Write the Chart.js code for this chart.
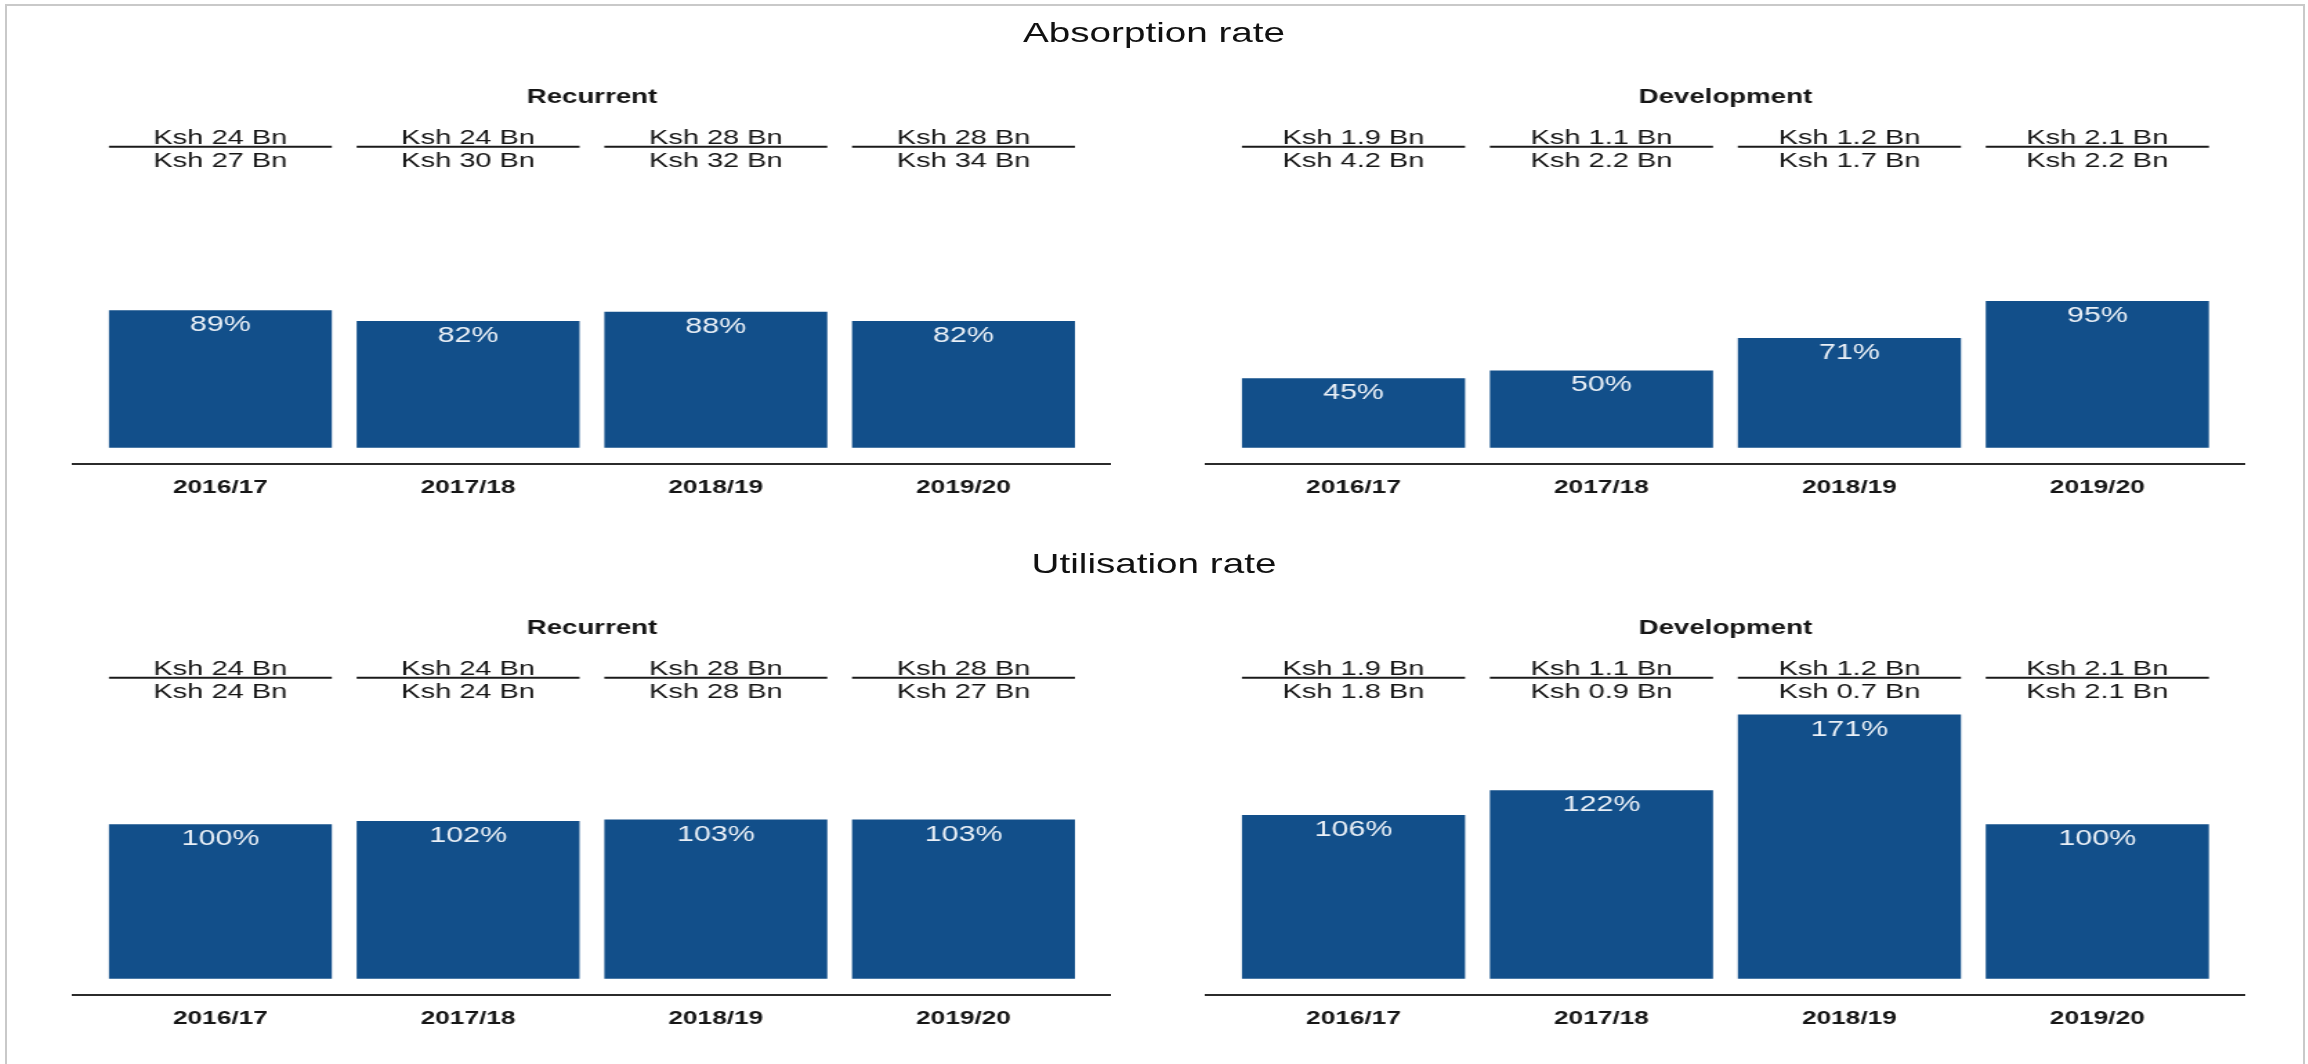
<!doctype html>
<html lang="en"><head>
<meta charset="utf-8"/>
<title>Absorption and utilisation rate</title>
<script src="https://cdn.jsdelivr.net/npm/chart.js@4.4.6/dist/chart.umd.min.js"></script>
<style>
  *{box-sizing:border-box}
  html,body{margin:0;padding:0;background:#fff;width:2308px;height:1064px;overflow:hidden}
  body{font-family:"Liberation Sans",Arial,sans-serif;color:#111}
  .frame{position:absolute;left:5px;top:4px;width:2300px;height:1100px;border:2px solid #c9c9c9}
  /* the source picture is stretched sideways, so the whole drawing is too */
  #stage{position:absolute;left:0;top:0;height:1064px;transform-origin:0 0}
  .rowtitle{position:absolute;left:0;width:100%;text-align:center;font-size:28px;line-height:30px;color:#111}
  .panel{position:absolute}
</style></head>
<body>
<div class="frame"></div>
<div id="stage"></div>
<script>
// ---- data ----
const YEARS = ['2016/17', '2017/18', '2018/19', '2019/20'];

const ABS_REC = [89, 82, 88, 82];
const ABS_REC_NUM = ['Ksh 24 Bn', 'Ksh 24 Bn', 'Ksh 28 Bn', 'Ksh 28 Bn'];
const ABS_REC_DEN = ['Ksh 27 Bn', 'Ksh 30 Bn', 'Ksh 32 Bn', 'Ksh 34 Bn'];

const ABS_DEV = [45, 50, 71, 95];
const ABS_DEV_NUM = ['Ksh 1.9 Bn', 'Ksh 1.1 Bn', 'Ksh 1.2 Bn', 'Ksh 2.1 Bn'];
const ABS_DEV_DEN = ['Ksh 4.2 Bn', 'Ksh 2.2 Bn', 'Ksh 1.7 Bn', 'Ksh 2.2 Bn'];

const UTL_REC = [100, 102, 103, 103];
const UTL_REC_NUM = ['Ksh 24 Bn', 'Ksh 24 Bn', 'Ksh 28 Bn', 'Ksh 28 Bn'];
const UTL_REC_DEN = ['Ksh 24 Bn', 'Ksh 24 Bn', 'Ksh 28 Bn', 'Ksh 27 Bn'];

const UTL_DEV = [106, 122, 171, 100];
const UTL_DEV_NUM = ['Ksh 1.9 Bn', 'Ksh 1.1 Bn', 'Ksh 1.2 Bn', 'Ksh 2.1 Bn'];
const UTL_DEV_DEN = ['Ksh 1.8 Bn', 'Ksh 0.9 Bn', 'Ksh 0.7 Bn', 'Ksh 2.1 Bn'];

// ---- layout ----
const SX = 1.38;
const FONT = '"Liberation Sans", Arial, sans-serif';
const BAR = '#124f8a', INK = '#161616';
const PANELS = [{left: 72, width: 1039}, {left: 1205, width: 1040}];
const Y_MIN = -10.7, Y_MAX = 219.2, LINE_AT = 194.7;
const ROWS = [
  {title: 'Absorption rate', titleTop: 18, top: 75, height: 436,
   charts: [['Recurrent', ABS_REC, ABS_REC_NUM, ABS_REC_DEN], ['Development', ABS_DEV, ABS_DEV_NUM, ABS_DEV_DEN]]},
  {title: 'Utilisation rate', titleTop: 549, top: 606, height: 436,
   charts: [['Recurrent', UTL_REC, UTL_REC_NUM, UTL_REC_DEN], ['Development', UTL_DEV, UTL_DEV_NUM, UTL_DEV_DEN]]}
];

Chart.defaults.font.family = FONT;
Chart.defaults.color = INK;

const stage = document.getElementById('stage');
stage.style.width = (2308 / SX) + 'px';
stage.style.transform = 'scaleX(' + SX + ')';

// percent inside each bar + "spent / budget" fraction above it
const labels = {
  id: 'labels',
  afterDatasetsDraw(chart, args, o) {
    const ctx = chart.ctx;
    const lineY = chart.scales.y.getPixelForValue(LINE_AT);
    ctx.save();
    chart.getDatasetMeta(0).data.forEach((bar, i) => {
      const half = bar.width / 2;
      ctx.textAlign = 'center';
      ctx.fillStyle = '#eaf0f7';
      ctx.font = '22px ' + FONT;
      ctx.textBaseline = 'middle';
      ctx.fillText(o.values[i] + '%', bar.x, bar.y + 15);
      ctx.strokeStyle = '#1a1a1a';
      ctx.lineWidth = 2;
      ctx.beginPath();
      ctx.moveTo(bar.x - half, lineY);
      ctx.lineTo(bar.x + half, lineY);
      ctx.stroke();
      ctx.fillStyle = INK;
      ctx.font = '21px ' + FONT;
      ctx.textBaseline = 'alphabetic';
      ctx.fillText(o.num[i], bar.x, lineY - 3);
      ctx.fillText(o.den[i], bar.x, lineY + 20);
    });
    ctx.restore();
  }
};

ROWS.forEach(row => {
  const t = document.createElement('div');
  t.className = 'rowtitle';
  t.style.top = row.titleTop + 'px';
  t.textContent = row.title;
  stage.appendChild(t);

  row.charts.forEach(([name, vals, num, den], p) => {
    const box = document.createElement('div');
    box.className = 'panel';
    box.style.left = (PANELS[p].left / SX) + 'px';
    box.style.width = (PANELS[p].width / SX) + 'px';
    box.style.top = row.top + 'px';
    box.style.height = row.height + 'px';
    const cv = document.createElement('canvas');
    box.appendChild(cv);
    stage.appendChild(box);

    new Chart(cv, {
      type: 'bar',
      data: {datasets: [{data: vals.map((v, i) => ({x: i + 1, y: v})), backgroundColor: BAR,
        categoryPercentage: 1, barPercentage: 0.9}]},
      plugins: [labels],
      options: {
        responsive: true, maintainAspectRatio: false, animation: false,
        layout: {padding: 0},
        plugins: {
          legend: {display: false}, tooltip: {enabled: false},
          title: {display: true, text: name, color: INK, font: {size: 20, weight: 'bold'}, padding: {top: 10, bottom: 0}},
          labels: {values: vals, num, den}
        },
        scales: {
          x: {type: 'linear', min: 0.4, max: 4.6, offset: false,
            afterBuildTicks: s => { s.ticks = YEARS.map((_, i) => ({value: i + 1})); },
            ticks: {callback: v => YEARS[v - 1], color: INK, font: {size: 19, weight: 'bold'}, padding: 12, maxRotation: 0, autoSkip: false},
            grid: {display: false, drawTicks: false},
            border: {display: true, color: '#2b2b2b', width: 2}},
          y: {display: false, min: Y_MIN, max: Y_MAX}
        }
      }
    });
  });
});
</script>
</body></html>
